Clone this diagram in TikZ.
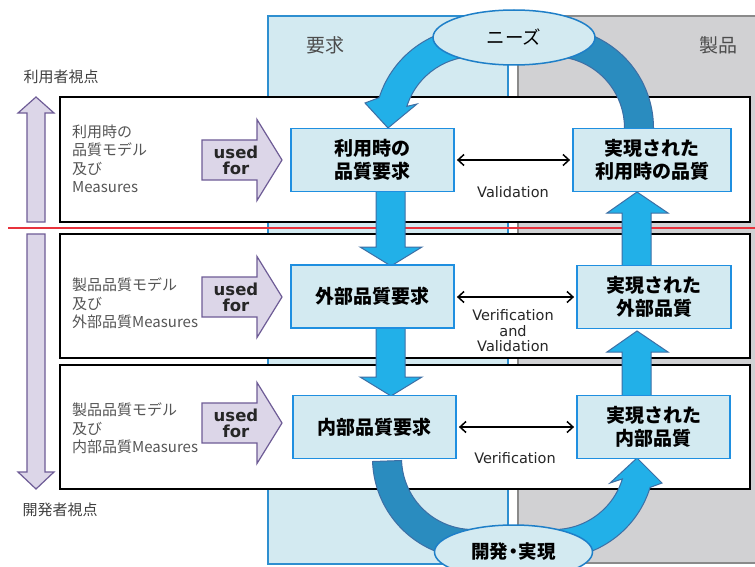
\documentclass[tikz,border=0pt]{standalone}
\usepackage{fontspec}
\setmainfont{Noto Sans CJK JP}
\newfontfamily\latinfont{DejaVu Sans}
\usetikzlibrary{arrows.meta,calc,shapes.geometric}

\definecolor{panelblue}{HTML}{D3EAF1}
\definecolor{panelborder}{HTML}{2E8FD0}
\definecolor{panelgray}{HTML}{D1D1D3}
\definecolor{grayborder}{HTML}{8A8A8A}
\definecolor{boxfill}{HTML}{D3EAF1}
\definecolor{boxborder}{HTML}{1F8FE0}
\definecolor{arrowfill}{HTML}{22B0E8}
\definecolor{arrowdark}{HTML}{2A8CBF}
\definecolor{arrowline}{HTML}{3D6FA5}
\definecolor{lavfill}{HTML}{DCD6E8}
\definecolor{lavline}{HTML}{6E5C96}
\definecolor{labelgray}{HTML}{555555}
\definecolor{redline}{HTML}{E8323C}
\definecolor{ellborder}{HTML}{1E7FC8}

\tikzset{
  panellabel/.style={text=black!70, font=\fontsize{19}{21}\selectfont},
  viewlabel/.style={text=black!75, font=\fontsize{15}{17}\selectfont},
  bandbox/.style={draw=black, fill=white, line width=1.6pt},
  lavarrow/.style={draw=lavline, fill=lavfill, line width=1.2pt, line join=miter},
  modeltext/.style={anchor=west, align=left, text=labelgray, inner sep=0pt,
    font=\fontsize{15}{18.5}\selectfont},
  usedtext/.style={align=center, inner sep=0pt, text=black!85,
    font=\latinfont\bfseries\fontsize{16.5}{16}\selectfont},
  qbox/.style={draw=boxborder, fill=boxfill, line width=1.8pt, align=center,
    minimum height=63, inner sep=0pt,
    font=\bfseries\fontsize{19}{23.5}\selectfont},
  blockarrow/.style={draw=arrowline, fill=arrowfill, line width=1pt, line join=miter},
  darkband/.style={draw=arrowline, fill=arrowdark, line width=1pt},
  dblarrow/.style={draw=black, line width=1.5pt,
    {Straight Barb[length=6pt,width=11pt]}-{Straight Barb[length=6pt,width=11pt]},
    shorten <=2pt, shorten >=2pt},
  vlabel/.style={align=center, inner sep=0pt, text=black!85,
    font=\latinfont\fontsize{14.5}{15.5}\selectfont},
  ellnode/.style={ellipse, draw=ellborder, fill=boxfill, line width=1.5pt, inner sep=0pt,
    font=\bfseries\fontsize{18.5}{20}\selectfont}
}

\begin{document}
\begin{tikzpicture}[x=1pt,y=-1pt]
\useasboundingbox (0,0) rectangle (755,567);
\clip (0,0) rectangle (755,567);
\fill[white] (0,0) rectangle (755,567);

% panels
\draw[panelborder, fill=panelblue, line width=1.2pt] (268,16) rectangle (508,564);
\draw[grayborder, fill=panelgray, line width=1.2pt] (518,16) rectangle (758,563);
\node[panellabel] (lreq) at (325,45) {要求};
\node[panellabel] (lprod) at (718,45) {製品};

% view labels
\node[viewlabel] (vuser) at (61,77) {利用者視点};
\node[viewlabel] (vdev) at (60,510) {開発者視点};

% bands
\draw[bandbox] (60,97) rectangle (750,222);
\draw[bandbox] (60,234) rectangle (750,358);
\draw[bandbox] (60,365) rectangle (750,489);

% red separator
\draw[redline, line width=1.5pt] (8,228) -- (755,228);

% viewpoint arrows
\draw[lavarrow] (27,222) -- (27,113) -- (18,113) -- (36,97) -- (54,113) -- (45,113) -- (45,222) -- cycle;
\draw[lavarrow] (27,234) -- (27,472) -- (18,472) -- (36,489) -- (54,472) -- (45,472) -- (45,234) -- cycle;

% model texts
\node[modeltext] (m1) at (72,159) {利用時の\\品質モデル\\及び\\Measures};
\node[modeltext] (m2) at (72,303.5) {製品品質モデル\\及び\\外部品質Measures};
\node[modeltext] (m3) at (72,428.5) {製品品質モデル\\及び\\内部品質Measures};

% used for arrows
\foreach \c/\n in {160/1,297/2,423/3}{
  \draw[lavarrow] (202,\c-20) -- (257,\c-20) -- (257,\c-40.5) -- (282,\c) -- (257,\c+40.5) -- (257,\c+20) -- (202,\c+20) -- cycle;
  \node[usedtext] (u\n) at (236,\c) {used\\for};
}

% curved arrows (top)
\draw[blockarrow] ($(475,128)+(275:100.5)$) arc[start angle=275, end angle=197.6, radius=100.5]
  -- (365,103) -- (388,128) -- (417,104)
  -- ($(475,128)+(197.6:71.5)$) arc[start angle=197.6, end angle=275, radius=71.5] -- cycle;
\draw[darkband] ($(553,128)+(265:100.5)$) arc[start angle=265, end angle=362, radius=100.5]
  -- ($(553,128)+(362:71.5)$) arc[start angle=362, end angle=265, radius=71.5] -- cycle;

% curved arrows (bottom)
\draw[darkband] ($(473,458)+(178:100.5)$) arc[start angle=178, end angle=85, radius=100.5]
  -- ($(473,458)+(85:71.5)$) arc[start angle=85, end angle=178, radius=71.5] -- cycle;
\draw[blockarrow] ($(554,458)+(95:100.5)$) arc[start angle=95, end angle=17, radius=100.5]
  -- (662,483) -- (637,458) -- (610,483)
  -- ($(554,458)+(17:71.5)$) arc[start angle=17, end angle=95, radius=71.5] -- cycle;

% straight block arrows
\draw[blockarrow] (376,190) -- (376,247) -- (360,247) -- (391,266) -- (422,247) -- (405,247) -- (405,190) -- cycle;
\draw[blockarrow] (376,326) -- (376,377) -- (360,377) -- (391,396) -- (422,377) -- (405,377) -- (405,326) -- cycle;
\draw[blockarrow] (622,398) -- (622,352) -- (607,352) -- (637,331) -- (668,352) -- (651,352) -- (651,398) -- cycle;
\draw[blockarrow] (622,268) -- (622,213) -- (607,213) -- (637,192) -- (668,213) -- (651,213) -- (651,268) -- cycle;

% quality boxes
\node[qbox, minimum width=163] (r1) at (372.5,160) {利用時の\\品質要求};
\node[qbox, minimum width=163] (r2) at (372.5,296.5) {外部品質要求};
\node[qbox, minimum width=163] (r3) at (374.5,427) {内部品質要求};
\node[qbox, minimum width=158] (p1) at (652,160) {実現された\\利用時の品質};
\node[qbox, minimum width=154] (p2) at (654,297) {実現された\\外部品質};
\node[qbox, minimum width=153] (p3) at (653.5,427) {実現された\\内部品質};

% verification arrows
\draw[dblarrow] (r1.east) -- (p1.west);
\draw[dblarrow] (r2.east |- p2.west) -- (p2.west);
\draw[dblarrow] (r3.east) -- (r3.east -| p3.west);
\node[vlabel] (val1) at (513,192) {Validation};
\node[vlabel] (val2) at (513,331) {Verification\\and\\Validation};
\node[vlabel] (val3) at (515,458) {Verification};

% ellipses
\node[ellnode, font=\fontsize{18.5}{20}\selectfont, minimum width=162, minimum height=55] (needs) at (514,37.5) {ニーズ};
\node[ellnode, minimum width=158, minimum height=54] (dev) at (513.5,552) {開発\kern-4pt・\kern-4pt実現};
\end{tikzpicture}
\end{document}
